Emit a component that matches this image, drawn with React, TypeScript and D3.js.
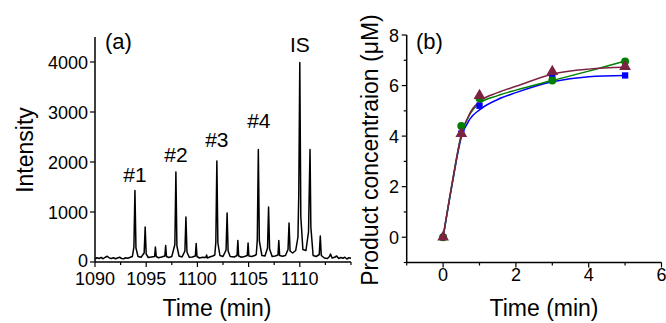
import { useEffect, useRef } from 'react'
import * as d3 from 'd3'

// (a) chromatogram trace: [time (min), intensity]
const trace: [number, number][] = [
  [1090.0, 60], [1090.2, 85], [1090.4, 70], [1090.6, 90], [1090.8, 65], [1091.0, 95], [1091.2, 115],
  [1091.4, 80], [1091.6, 70], [1091.8, 85], [1092.0, 65], [1092.2, 80], [1092.4, 95], [1092.6, 70],
  [1092.8, 65], [1093.0, 85], [1093.2, 75], [1093.45, 95], [1093.65, 110],
  [1093.8, 300], [1093.9, 1430], [1094.0, 280], [1094.2, 110], [1094.5, 95],
  [1094.8, 180], [1094.9, 700], [1095.0, 160], [1095.2, 90], [1095.5, 100],
  [1095.82, 110], [1095.9, 300], [1095.98, 110], [1096.2, 85], [1096.5, 100],
  [1096.82, 120], [1096.9, 330], [1096.98, 110], [1097.2, 90], [1097.5, 110],
  [1097.8, 350], [1097.9, 1800], [1098.0, 320], [1098.2, 120], [1098.5, 100],
  [1098.78, 220], [1098.88, 900], [1098.98, 200], [1099.2, 95], [1099.5, 100],
  [1099.8, 120], [1099.88, 370], [1099.96, 110], [1100.2, 80], [1100.5, 95],
  [1100.82, 90], [1100.9, 140], [1100.98, 80], [1101.2, 100], [1101.5, 120], [1101.7, 140],
  [1101.8, 400], [1101.9, 2020], [1102.0, 380], [1102.2, 130], [1102.5, 110],
  [1102.8, 240], [1102.9, 980], [1103.0, 220], [1103.2, 110], [1103.6, 100],
  [1103.87, 130], [1103.95, 430], [1104.03, 120], [1104.3, 95], [1104.6, 110],
  [1104.87, 130], [1104.95, 380], [1105.03, 120], [1105.3, 110], [1105.6, 130], [1105.75, 150],
  [1105.85, 450], [1105.95, 2250], [1106.05, 420], [1106.3, 130], [1106.6, 120],
  [1106.85, 280], [1106.95, 1100], [1107.05, 260], [1107.3, 110], [1107.6, 120],
  [1107.87, 140], [1107.95, 430], [1108.03, 130], [1108.3, 115], [1108.6, 130],
  [1108.85, 250], [1108.95, 780], [1109.05, 220], [1109.3, 180], [1109.6, 230], [1109.82, 500],
  [1109.9, 1350], [1110.0, 3990], [1110.1, 900], [1110.3, 250], [1110.6, 230], [1110.85, 600],
  [1110.92, 1380], [1111.0, 2250], [1111.08, 700], [1111.3, 130], [1111.6, 110],
  [1111.9, 150], [1112.0, 520], [1112.1, 130], [1112.4, 80], [1112.7, 70],
  [1112.9, 110], [1113.0, 160], [1113.15, 80], [1113.4, 95], [1113.6, 120], [1113.8, 70],
  [1114.0, 90], [1114.2, 75], [1114.4, 95], [1114.6, 60], [1114.8, 85], [1115.0, 75],
]

const peakLabels = ['#1', '#2', '#3', '#4', 'IS']
const peakTimes = [1093.9, 1097.9, 1101.9, 1106.0, 1110.0]
const peakLabelY = [1600, 2000, 2300, 2680, 4200]

const xTicksA = [1090, 1095, 1100, 1105, 1110]
const yTicksA = [0, 1000, 2000, 3000, 4000]

// (b) measured points
const times = [0, 0.5, 1, 3, 5]
const blueVals = [0, 4.1, 5.2, 6.3, 6.4]
const greenVals = [0, 4.4, 5.5, 6.2, 6.95]
const maroonVals = [0, 4.1, 5.6, 6.55, 6.75]

// (b) fitted curves
const fitTimes = [0, 0.25, 0.5, 0.75, 1, 1.5, 2, 3, 4, 5]
const blueFit = [0, 2.1, 3.95, 4.7, 5.04, 5.45, 5.72, 6.15, 6.35, 6.4]
const greenFit = [0, 2.15, 4.05, 4.9, 5.3, 5.6, 5.82, 6.2, 6.57, 6.97]
const maroonFit = [0, 2.15, 4.05, 4.95, 5.37, 5.72, 5.97, 6.45, 6.65, 6.72]

const xTicksB = [0, 2, 4, 6]
const yTicksB = [0, 2, 4, 6, 8]

const FONT = 'Arial, "Liberation Sans", sans-serif'

export default function App() {
  const svgRef = useRef<SVGSVGElement>(null)

  useEffect(() => {
    if (!svgRef.current) return
    const svg = d3.select(svgRef.current)
    svg.selectAll('*').remove()
    svg.append('rect').attr('width', 666).attr('height', 323).attr('fill', '#fff')

    // ---------- panel (a) ----------
    const xA = d3.scaleLinear().domain([1090, 1115]).range([95, 351])
    const yA = d3.scaleLinear().domain([0, 4500]).range([262, 37])

    const gA = svg.append('g')

    const line = d3
      .line<[number, number]>()
      .x((d) => xA(d[0]))
      .y((d) => yA(d[1]))
    gA.append('path')
      .datum(trace)
      .attr('fill', 'none')
      .attr('stroke', '#000')
      .attr('stroke-width', 1.5)
      .attr('stroke-linejoin', 'round')
      .attr('d', line)

    // axes
    gA.append('line').attr('x1', 95).attr('x2', 95).attr('y1', yA(4500)).attr('y2', 262)
      .attr('stroke', '#000').attr('stroke-width', 1.5)
    gA.append('line').attr('x1', 95).attr('x2', xA(1115)).attr('y1', 262).attr('y2', 262)
      .attr('stroke', '#000').attr('stroke-width', 1.5)

    d3.range(1090, 1115.1, 2.5).forEach((t) => {
      const major = xTicksA.includes(t)
      gA.append('line').attr('x1', xA(t)).attr('x2', xA(t)).attr('y1', 262).attr('y2', 262 + (major ? 5 : 3))
        .attr('stroke', '#000').attr('stroke-width', 1.2)
    })
    xTicksA.forEach((t) => {
      gA.append('text').attr('x', xA(t)).attr('y', 284.5).attr('text-anchor', 'middle')
        .style('font-family', FONT).style('font-size', '18px').text(t)
    })
    yTicksA.forEach((v) => {
      gA.append('line').attr('x1', 95).attr('x2', 90).attr('y1', yA(v)).attr('y2', yA(v))
        .attr('stroke', '#000').attr('stroke-width', 1.2)
      gA.append('text').attr('x', 88).attr('y', yA(v) + (v === 0 ? 4.5 : 6.5)).attr('text-anchor', 'end')
        .style('font-family', FONT).style('font-size', '18px').text(v)
    })

    gA.append('text').attr('x', 217).attr('y', 316).attr('text-anchor', 'middle')
      .style('font-family', FONT).style('font-size', '23px').text('Time (min)')
    gA.append('text').attr('transform', 'translate(33,150) rotate(-90)').attr('text-anchor', 'middle')
      .style('font-family', FONT).style('font-size', '23px').text('Intensity')
    gA.append('text').attr('x', 105).attr('y', 49)
      .style('font-family', FONT).style('font-size', '22px').text('(a)')

    peakLabels.forEach((lab, i) => {
      gA.append('text').attr('x', xA(peakTimes[i])).attr('y', yA(peakLabelY[i]))
        .attr('text-anchor', 'middle')
        .style('font-family', FONT).style('font-size', '21px').text(lab)
    })

    // ---------- panel (b) ----------
    const xB = d3.scaleLinear().domain([-1, 6]).range([406.7, 661.5])
    const yB = d3.scaleLinear().domain([-1, 8]).range([262.5, 35])
    const gB = svg.append('g')

    gB.append('line').attr('x1', xB(-1)).attr('x2', xB(-1)).attr('y1', yB(8)).attr('y2', yB(-1))
      .attr('stroke', '#000').attr('stroke-width', 1.5)
    gB.append('line').attr('x1', xB(-1)).attr('x2', xB(6)).attr('y1', yB(-1)).attr('y2', yB(-1))
      .attr('stroke', '#000').attr('stroke-width', 1.5)

    d3.range(-1, 6.1, 1).forEach((t) => {
      const major = xTicksB.includes(t)
      gB.append('line').attr('x1', xB(t)).attr('x2', xB(t)).attr('y1', yB(-1)).attr('y2', yB(-1) + (major ? 5 : 3))
        .attr('stroke', '#000').attr('stroke-width', 1.2)
    })
    xTicksB.forEach((t) => {
      gB.append('text').attr('x', xB(t)).attr('y', 280.5).attr('text-anchor', 'middle')
        .style('font-family', FONT).style('font-size', '18px').text(t)
    })
    d3.range(-1, 8.1, 1).forEach((v) => {
      const major = yTicksB.includes(v)
      gB.append('line').attr('x1', xB(-1)).attr('x2', xB(-1) - (major ? 5 : 3)).attr('y1', yB(v)).attr('y2', yB(v))
        .attr('stroke', '#000').attr('stroke-width', 1.2)
    })
    yTicksB.forEach((v) => {
      gB.append('text').attr('x', 399).attr('y', yB(v) + 6.5).attr('text-anchor', 'end')
        .style('font-family', FONT).style('font-size', '18px').text(v)
    })

    gB.append('text').attr('x', 544).attr('y', 316).attr('text-anchor', 'middle')
      .style('font-family', FONT).style('font-size', '23px').text('Time (min)')
    gB.append('text').attr('transform', 'translate(378,150) rotate(-90)').attr('text-anchor', 'middle')
      .style('font-family', FONT).style('font-size', '23px').text('Product concentraion (\u03bcM)')
    gB.append('text').attr('x', 416).attr('y', 49)
      .style('font-family', FONT).style('font-size', '22px').text('(b)')

    const fitLine = d3
      .line<[number, number]>()
      .x((d) => xB(d[0]))
      .y((d) => yB(d[1]))
      .curve(d3.curveMonotoneX)

    const series = [
      { color: '#0000ff', fit: blueFit, vals: blueVals, shape: d3.symbolSquare, size: 40 },
      { color: '#008000', fit: greenFit, vals: greenVals, shape: d3.symbolCircle, size: 50 },
      { color: '#7b2340', fit: maroonFit, vals: maroonVals, shape: d3.symbolTriangle, size: 60 },
    ]

    series.forEach((s) => {
      gB.append('path')
        .datum(fitTimes.map((t, i) => [t, s.fit[i]] as [number, number]))
        .attr('fill', 'none')
        .attr('stroke', s.color)
        .attr('stroke-width', 1.5)
        .attr('d', fitLine)
    })
    series.forEach((s) => {
      const sym = d3.symbol().type(s.shape).size(s.size)
      times.forEach((t, i) => {
        gB.append('path')
          .attr('transform', `translate(${xB(t)},${yB(s.vals[i])})`)
          .attr('fill', s.color)
          .attr('d', sym() as string)
      })
    })
  }, [])

  return (
    <div style={{ position: 'absolute', left: 0, top: 0 }}>
      <svg ref={svgRef} width={666} height={323} style={{ display: 'block' }} />
    </div>
  )
}
